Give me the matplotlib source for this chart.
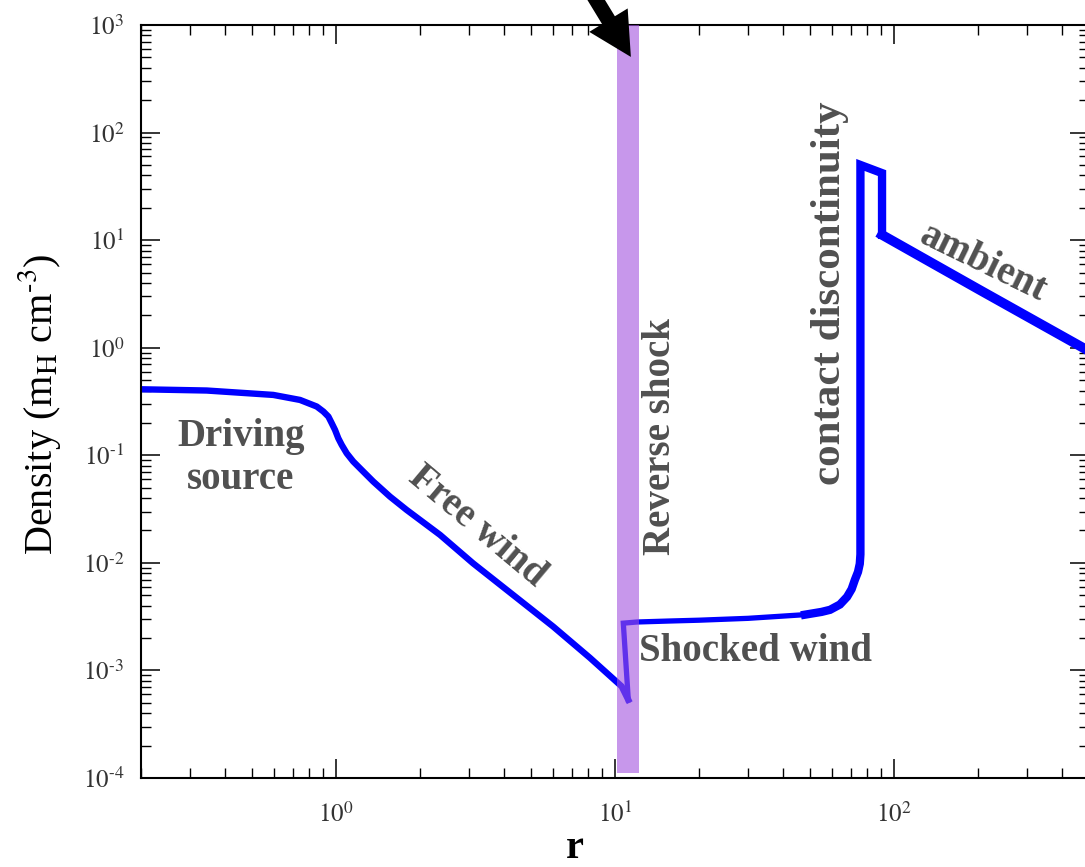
"""Density profile of a wind-blown bubble, with the regions labelled."""

import matplotlib
matplotlib.use("Agg")
import matplotlib.pyplot as plt
from matplotlib.ticker import LogLocator, NullFormatter, FuncFormatter
import numpy as np

plt.rcParams["font.family"] = ["Liberation Serif", "DejaVu Serif"]
plt.rcParams["mathtext.fontset"] = "stix"

# driving source + free wind (ends in the small dip at the reverse shock)
R_DRIVE = [0.198, 0.344, 0.596, 0.743, 0.853, 0.901, 0.939, 0.965, 0.992,
           1.019, 1.048, 1.092, 1.153, 1.252, 1.36, 1.561, 1.79, 2.36,
           3.10, 6.0, 8.13, 10.57, 11.16]
RHO_DRIVE = [0.411, 0.40, 0.364, 0.327, 0.284, 0.255, 0.229, 0.199, 0.172,
             0.144, 0.125, 0.1045, 0.0875, 0.0706, 0.057, 0.0413, 0.0311, 0.0182,
             0.0099, 2.56e-3, 1.31e-3, 7.1e-4, 5.33e-4]

# jump at the reverse shock and the shocked wind plateau
R_SHOCKED = [11.16, 10.71, 12.0, 15.7, 20.0, 30.0, 40.0, 48.0]
RHO_SHOCKED = [5.33e-4, 2.75e-3, 2.82e-3, 2.88e-3, 2.93e-3, 3.05e-3, 3.2e-3, 3.3e-3]

# rise into the contact discontinuity and the dense shell
R_CONTACT = [48.0, 55.0, 59.0, 64.0, 67.9, 70.5, 72.4, 74.3, 75.4, 75.8, 75.8,
             90.6, 90.6]
RHO_CONTACT = [3.3e-3, 3.5e-3, 3.66e-3, 4.1e-3, 4.83e-3, 5.7e-3, 6.95e-3,
               8.24e-3, 9.8e-3, 1.2e-2, 50.0, 42.0, 11.2]

# undisturbed ambient medium
R_AMBIENT = [90.6, 203.0, 500.0]
RHO_AMBIENT = [11.2, 3.44, 0.93]

# reverse shock location (shaded band)
SHOCK_R = (10.17, 12.19)
SHOCK_RHO = (1.12e-4, 1e3)

X_TICKS = [1.0, 10.0, 100.0]
Y_TICKS = [1e-4, 1e-3, 1e-2, 1e-1, 1.0, 1e1, 1e2, 1e3]

W, H = 1085, 867
fig = plt.figure(figsize=(W / 100, H / 100), dpi=100)
ax = fig.add_axes([141 / W, (H - 778) / H, (1089 - 141) / W, (778 - 25) / H])

BLUE = "#0000ff"
ax.plot(R_DRIVE, RHO_DRIVE, color=BLUE, lw=4.6, solid_joinstyle="round")
ax.plot(R_SHOCKED, RHO_SHOCKED, color=BLUE, lw=3.8, solid_joinstyle="miter")
ax.plot(R_CONTACT, RHO_CONTACT, color=BLUE, lw=6.0, solid_joinstyle="miter")
ax.plot(R_AMBIENT, RHO_AMBIENT, color=BLUE, lw=7.0, solid_joinstyle="miter")

ax.fill_betweenx(SHOCK_RHO, SHOCK_R[0], SHOCK_R[1], color="#a252df",
                 alpha=0.6, lw=0, zorder=3)

ax.set_xscale("log")
ax.set_yscale("log")
ax.set_xlim(0.2, 500)
ax.set_ylim(1e-4, 1e3)


def pow10(val, pos):
    e = int(round(np.log10(val)))
    if e < 0:
        return r"$10^{\text{-}%d}$" % (-e)
    return r"$10^{%d}$" % e


ax.set_xticks(X_TICKS)
ax.set_yticks(Y_TICKS)
for axis in (ax.xaxis, ax.yaxis):
    axis.set_major_formatter(FuncFormatter(pow10))
    axis.set_minor_locator(LogLocator(base=10, subs=range(2, 10), numticks=20))
    axis.set_minor_formatter(NullFormatter())
ax.set_xlim(0.2, 500)
ax.set_ylim(1e-4, 1e3)

ax.tick_params(which="both", direction="in", top=True, right=True,
               colors="black", labelcolor="#333333")
ax.tick_params(which="major", length=13.5, width=1.1, labelsize=18)
ax.tick_params(which="minor", length=7, width=1.0)
ax.tick_params(axis="x", pad=17)
ax.tick_params(axis="y", pad=12)
for sp in ax.spines.values():
    sp.set_linewidth(1.5)

fig.text(40 / W, 1 - 404 / H, r"Density (m$_\mathrm{H}$ cm$^{\text{-}3}$)",
         rotation=90, ha="center", va="center", fontsize=29)
fig.text(575 / W, 0, "r", ha="center", va="bottom",
         fontsize=29, fontweight="bold")

LABEL = dict(fontsize=28, fontweight="bold", color="#505050",
             ha="center", va="center", zorder=4)
ax.text(0.456, 0.0946, "Driving\nsource", linespacing=1.2, **LABEL)
ax.text(3.2, 0.0216, "Free wind", rotation=-40, **LABEL)
ax.text(14.5, 0.148, "Reverse shock", rotation=90, **LABEL)
ax.text(59.0, 3.23, "contact discontinuity", rotation=90,
        **{**LABEL, "fontsize": 31})
ax.text(32.0, 1.49e-3, "Shocked wind", **LABEL)
ax.text(208.0, 6.1, "ambient", rotation=-26, **LABEL)

# arrow pointing at the reverse shock, entering from above the frame
ax.annotate("", xy=(11.4, 505), xycoords="data",
            xytext=(584, 887), textcoords="figure pixels",
            annotation_clip=False,
            arrowprops=dict(arrowstyle="simple,head_length=3.1,head_width=3.24,tail_width=1.08",
                            mutation_scale=10, color="black", lw=0,
                            shrinkA=0, shrinkB=0))

fig.savefig("out.png", dpi=100)
